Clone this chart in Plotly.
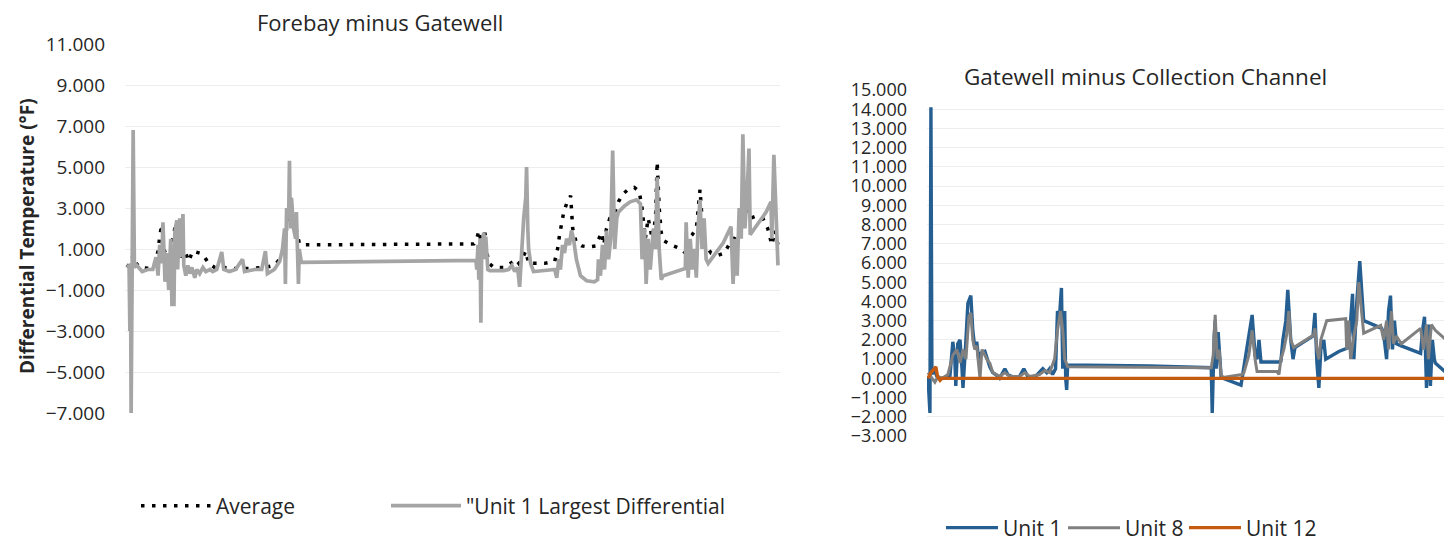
import plotly.graph_objects as go

# ---------------- Left chart: Forebay minus Gatewell (days since start) ----------------
avg_t = [0.5, 1.2, 2.0, 2.7, 3.7, 6.1, 7.3, 8.1, 8.5, 9.0, 9.5, 10.3, 11.0, 11.7, 12.5, 12.9,
         13.7, 14.7, 15.6, 16.6, 18.3, 19.5, 20.5, 22.0, 24.4, 26.9, 30.5, 34.2, 36.6, 38.3,
         39.3, 40.1, 40.5, 41.3, 42.0, 42.7, 43.2, 85.5, 86.2, 86.7, 87.4, 88.2, 88.7, 89.2,
         90.4, 92.8, 94.5, 95.8, 96.5, 97.5, 98.2, 98.9, 100.7, 102.8, 105.3, 106.0, 106.5,
         107.0, 107.5, 108.2, 109.2, 109.7, 110.6, 111.9, 113.6, 115.3, 116.0, 116.8, 117.3,
         118.0, 118.8, 119.5, 120.2, 120.9, 122.1, 123.3, 124.8, 126.0, 126.7, 127.5, 128.2,
         129.2, 130.0, 130.4, 130.9, 131.4, 132.1, 133.8, 136.3, 137.3, 138.0, 139.0, 140.0,
         140.9, 141.4, 142.2, 143.6, 145.4, 146.8, 148.0, 149.3, 150.5, 151.4, 152.2, 153.2,
         154.6, 156.3, 157.5, 158.5, 159.3, 160.0]
avg_v = [0.1, 0.3, 0.7, 0.3, 0.1, 0.05, 0.3, 0.9, 1.6, 2.2, 1.0, 0.6, 0.4, 1.5, 2.3, 1.5,
         0.6, 0.9, 0.4, 0.9, 0.8, 0.6, 0.3, 0.1, 0.1, 0.05, 0.05, 0.1, 0.2, 0.6,
         1.5, 3.0, 3.5, 2.5, 1.8, 1.3, 1.2, 1.25, 1.5, 1.9, 1.2, 1.8, 0.8, 0.3,
         0.1, 0.1, 0.3, 0.5, 0.3, 0.6, 0.9, 0.3, 0.3, 0.3, 0.4, 1.0, 1.7,
         2.3, 2.8, 3.2, 3.6, 2.0, 1.3, 1.15, 1.1, 1.15, 1.5, 1.8, 1.2,
         2.0, 2.5, 2.6, 2.9, 3.3, 3.7, 3.9, 4.0, 3.8, 3.0, 1.5, 2.5,
         1.5, 2.5, 5.25, 3.0, 1.8, 1.4, 1.2, 1.0, 0.8, 1.5, 1.7, 2.0,
         3.9, 2.5, 1.2, 0.8, 0.7, 0.8, 1.2, 1.5, 2.0, 3.0, 3.2, 2.5,
         2.6, 2.5, 2.0, 1.2, 1.9, 1.2]

u1max_t = [0.5, 1.0, 1.2, 1.35, 1.5, 1.7, 2.0, 2.3, 2.9, 4.2, 5.6, 6.8, 7.6, 8.1, 8.5, 9.0,
           9.3, 9.8, 10.3, 10.7, 11.2, 11.5, 12.0, 12.2, 12.7, 12.9, 13.4, 13.7, 14.2, 14.4,
           14.9, 15.4, 15.9, 16.4, 17.1, 17.6, 18.3, 19.1, 19.8, 20.8, 21.5, 22.5, 23.7, 24.2,
           25.6, 27.1, 28.8, 29.3, 31.8, 33.5, 34.4, 34.9, 36.6, 37.9, 38.6, 39.1, 39.3, 39.6,
           40.1, 40.3, 40.5, 40.8, 41.3, 41.8, 42.0, 42.5, 42.7, 43.2, 86.0, 86.2, 86.5, 86.7,
           87.0, 87.2, 87.4, 87.9, 88.2, 88.4, 88.9, 89.4, 92.8, 94.0, 94.8, 95.5, 96.2, 96.7,
           97.2, 97.7, 98.2, 98.4, 98.7, 98.9, 99.4, 100.1, 102.8, 105.3, 105.8, 106.3, 106.7,
           107.2, 107.7, 108.2, 108.9, 109.4, 109.9, 110.6, 111.6, 113.1, 115.0, 115.8, 116.0,
           116.5, 117.0, 117.5, 118.0, 118.5, 119.0, 119.5, 120.0, 120.5, 120.9, 122.4, 123.8,
           125.3, 126.3, 126.7, 127.3, 127.7, 128.2, 128.7, 129.5, 130.0, 130.4, 130.9, 131.4,
           131.9, 137.3, 137.5, 138.0, 138.5, 139.0, 139.5, 140.0, 140.4, 140.9, 141.4, 141.9,
           142.4, 142.9, 146.6, 148.5, 149.0, 149.5, 150.0, 150.5, 151.0, 151.4, 151.9, 152.4,
           152.9, 153.2, 155.1, 157.1, 158.3, 158.5, 159.0, 159.5, 160.0]
u1max_v = [0.1, 0.2, -3.0, 0.3, -7.0, 0.4, 6.8, 0.1, 0.2, -0.1, 0.0, 0.0, 0.6, -0.3, 1.2, 0.3,
           2.3, -0.6, 0.8, -1.0, 1.5, -1.7, -1.7, 1.8, 2.4, 0.0, 2.5, 0.6, 2.7, 0.2,
           -0.3, 0.2, -0.2, 0.1, -0.4, 0.0, -0.2, 0.1, -0.1, 0.0, -0.1, 0.0, 0.85, 0.0,
           -0.1, 0.0, 0.5, -0.1, 0.0, 0.0, 0.9, -0.2, 0.0, 0.4, 1.0, 2.0, -0.7, 3.0,
           2.5, 5.3, 2.0, 3.5, 2.0, 1.5, 2.8, -0.7, 1.0, 0.35, 0.45, 0.0, 1.2, -0.5,
           1.5, -2.6, 0.8, 1.8, 0.5, 1.6, 0.0, -0.05, -0.05, 0.0, 0.2, -0.1, 0.1, -0.85,
           1.0, 2.5, 3.5, 5.0, 2.0, 1.0, 0.3, -0.1, -0.05, 0.0, -0.4, 0.5, 0.0,
           1.2, 0.8, 1.5, 1.2, 1.9, 1.5, 0.5, -0.3, -0.55, -0.6, -0.5, 0.5,
           -0.3, 1.2, 0.0, 1.9, 0.5, 1.5, 5.8, 1.0, 2.5, 2.8, 3.1, 3.3,
           3.4, 3.2, 0.5, 2.0, -0.7, 1.5, 0.0, 2.0, 1.0, 4.5, 1.0, -0.5,
           -0.3, 0.05, 2.3, -0.4, 1.5, 0.0, 1.0, -0.4, 2.0, 3.4, 1.0, 2.5,
           0.5, 0.3, 1.3, 2.1, -0.7, 1.5, -0.3, 3.0, 1.5, 6.6, 2.0, 3.5,
           5.9, 1.7, 2.2, 2.8, 3.3, 1.5, 5.6, 3.0, 0.2]

left_ticks = [-7, -5, -3, -1, 1, 3, 5, 7, 9, 11]

# ---------------- Right chart: Gatewell minus Collection Channel ----------------
unit1_t = [0.3, 0.9, 1.2, 1.5, 2.1, 3.0, 4.0, 5.5, 7.0, 7.9, 8.5, 8.8, 9.4, 10.1, 10.7, 11.0,
           11.9, 12.5, 13.4, 14.0, 14.6, 15.2, 15.8, 16.5, 17.7, 18.6, 19.2, 20.1, 21.0, 22.2,
           23.8, 24.7, 25.9, 27.1, 28.3, 29.6, 30.8, 32.9, 34.4, 35.4, 36.6, 37.5, 38.4, 39.3,
           39.9, 40.5, 41.1, 41.5, 41.8, 42.1, 42.4, 42.7, 43.0, 68.0, 86.9, 87.2, 87.8, 88.1,
           88.4, 89.0, 89.9, 90.5, 96.0, 96.6, 97.5, 98.4, 99.4, 100.3, 100.9, 101.5, 102.1,
           107.6, 108.2, 108.8, 109.7, 110.3, 111.2, 111.9, 112.5, 115.2, 118.0, 118.6, 119.2,
           119.8, 120.4, 121.3, 121.9, 125.9, 128.9, 129.5, 130.1, 130.5, 131.4, 132.3, 132.9,
           133.5, 139.0, 139.6, 140.5, 141.1, 141.7, 142.3, 142.9, 143.5, 144.8, 150.9, 151.5,
           152.1, 152.7, 153.3, 153.9, 154.5, 155.1, 155.4, 160.0]
unit1_v = [0.1, -1.8, 14.1, 0.2, 0.5, 0.1, 0.0, 0.0, 0.1, 1.9, 1.0, -0.4, 1.8, 2.0, 0.5, -0.5,
           2.0, 3.9, 4.3, 2.5, 1.6, 1.9, 1.0, 1.3, 1.4, 0.9, 0.6, 0.3, 0.2, 0.0,
           0.5, 0.2, 0.1, 0.05, 0.1, 0.5, 0.1, 0.05, 0.3, 0.5, 0.3, 0.5, 0.2, 0.5,
           3.5, 3.2, 4.7, 0.5, 2.5, 3.5, 0.0, -0.6, 0.7, 0.65, 0.55, -1.8, 2.2, 3.0,
           0.5, 2.4, 0.1, 0.0, -0.35, 0.3, 1.5, 2.5, 3.3, 1.2, 1.0, 2.0, 0.85,
           0.85, 0.9, 2.0, 3.0, 4.6, 2.0, 1.0, 1.6, 1.9, 2.2, 3.4, 0.8,
           -0.5, 1.5, 2.0, 1.0, 1.4, 1.6, 3.0, 4.4, 1.0, 4.0, 6.1, 4.5,
           3.0, 2.6, 2.3, 1.0, 3.5, 4.3, 1.5, 3.0, 1.8, 1.7, 1.3, 2.5,
           3.2, -0.5, 2.8, -0.4, 2.0, 1.0, 0.8, 0.1]

unit8_t = [0.3, 1.5, 2.4, 3.4, 4.6, 6.4, 7.9, 9.1, 10.1, 11.0, 11.9, 12.8, 13.4, 14.0, 14.6,
           15.2, 16.2, 16.8, 17.7, 18.6, 19.2, 20.1, 22.2, 23.8, 25.3, 28.3, 29.9, 31.4, 34.4,
           36.0, 37.5, 39.0, 39.9, 40.8, 41.5, 42.1, 43.0, 86.9, 87.5, 88.1, 88.7, 89.3, 89.9,
           90.5, 96.3, 96.9, 98.4, 99.4, 100.3, 100.9, 107.0, 107.6, 108.2, 109.1, 110.0, 110.6,
           111.2, 112.1, 118.2, 118.6, 119.2, 119.8, 120.4, 121.3, 122.2, 128.0, 128.3, 128.9,
           129.5, 130.5, 131.4, 132.0, 132.6, 133.2, 133.5, 138.7, 139.6, 140.5, 141.1, 142.0,
           142.6, 143.5, 145.0, 150.9, 151.8, 152.7, 153.3, 154.2, 155.4, 160.0]
unit8_v = [0.3, 0.0, -0.2, 0.1, 0.0, 0.2, 1.2, 1.5, 0.8, 1.5, 1.0, 3.2, 3.4, 2.0, 1.5,
           1.7, 0.0, 1.5, 1.2, 0.9, 0.8, 0.3, 0.1, 0.3, 0.1, 0.1, 0.3, 0.1, 0.2,
           0.4, 0.3, 1.0, 2.5, 3.5, 2.5, 1.0, 0.6, 0.55, 1.2, 3.3, 1.0, 1.5, 0.2,
           0.05, 0.2, 0.3, 1.2, 2.5, 1.0, 0.35, 0.35, 0.2, 1.0, 1.5, 2.3, 3.5,
           2.0, 1.6, 2.25, 2.6, 1.5, 1.0, 2.0, 2.5, 3.0, 3.1, 1.5, 3.0,
           1.0, 2.2, 3.0, 5.0, 4.0, 3.0, 2.35, 2.75, 2.0, 3.0, 1.5, 3.5,
           1.8, 2.2, 1.8, 2.6, 1.5, 2.8, 1.0, 2.8, 2.5, 1.8]

unit12_t = [0.3, 1.2, 2.7, 3.2, 4.0, 4.6, 160.0]
unit12_v = [0.0, 0.3, 0.6, 0.1, -0.1, 0.0, 0.0]

right_ticks = list(range(-3, 16))

FONT = "Open Sans"
TXT = "#262626"
GRID = "#EDEDED"

# the page body adds an 8 px offset; figure size compensates for it
OFF = 8
W, H = 1452 - OFF, 541 - OFF


def fx(px):
    return (px - OFF) / W


def fy(py):
    return 1 - (py - OFF) / H


fig = go.Figure()
fig.add_trace(go.Scatter(x=avg_t, y=avg_v, mode="lines", name="Average", showlegend=True,
                         line=dict(color="#000000", width=3.5, dash="3.5px,7.5px"),
                         xaxis="x", yaxis="y", legend="legend"))
fig.add_trace(go.Scatter(x=u1max_t, y=u1max_v, mode="lines", name='"Unit 1 Largest Differential',
                         showlegend=True, line=dict(color="#A5A5A5", width=3.7),
                         xaxis="x", yaxis="y", legend="legend2"))
fig.add_trace(go.Scatter(x=unit1_t, y=unit1_v, mode="lines", name="Unit 1", showlegend=True,
                         line=dict(color="#255E91", width=3.4),
                         xaxis="x2", yaxis="y2", legend="legend3"))
fig.add_trace(go.Scatter(x=unit8_t, y=unit8_v, mode="lines", name="Unit 8", showlegend=True,
                         line=dict(color="#808080", width=3.0),
                         xaxis="x2", yaxis="y2", legend="legend4"))
fig.add_trace(go.Scatter(x=unit12_t, y=unit12_v, mode="lines", name="Unit 12", showlegend=True,
                         line=dict(color="#C55A11", width=3.4),
                         xaxis="x2", yaxis="y2", legend="legend5"))


def leg(x_px, y_px, iw, size):
    return dict(orientation="h", x=fx(x_px), y=fy(y_px), xanchor="left", yanchor="middle",
                itemwidth=iw, font=dict(size=size, color=TXT), bgcolor="rgba(0,0,0,0)")


fig.update_layout(
    width=W, height=H,
    showlegend=True,
    margin=dict(l=0, r=0, t=0, b=0, autoexpand=False),
    paper_bgcolor="white", plot_bgcolor="white",
    font=dict(family=FONT, color=TXT, size=19),
    xaxis=dict(domain=[fx(125), fx(780)], range=[0, 160.5], visible=False),
    yaxis=dict(domain=[fy(413), fy(44)], range=[-7, 11], tickvals=left_ticks,
               tickformat=".3f", showgrid=True, gridcolor=GRID, gridwidth=1.3,
               zeroline=False, showline=False, ticks="", ticklabelstandoff=19,
               automargin=False, tickfont=dict(size=19, color=TXT)),
    xaxis2=dict(domain=[fx(927), 1.0], range=[0, 160.5], visible=False, anchor="y2"),
    yaxis2=dict(domain=[fy(436), fy(90)], range=[-3, 15], tickvals=right_ticks,
                tickformat=".3f", showgrid=True, gridcolor=GRID, gridwidth=1.3,
                zeroline=False, showline=False, ticks="", ticklabelstandoff=19,
                automargin=False, tickfont=dict(size=18, color=TXT), anchor="x2"),
    legend=leg(136, 506, 70, 21),
    legend2=leg(386, 506, 70, 21),
    legend3=leg(941, 528, 52, 21),
    legend4=leg(1063, 528, 52, 21),
    legend5=leg(1184, 528, 52, 21),
    annotations=[
        dict(text="Forebay minus Gatewell", x=fx(380), y=fy(22), xref="paper", yref="paper",
             showarrow=False, xanchor="center", yanchor="middle", borderpad=0,
             font=dict(size=22, color=TXT)),
        dict(text="Gatewell minus Collection Channel", x=fx(1145), y=fy(76), xref="paper",
             yref="paper", showarrow=False, xanchor="center", yanchor="middle",
             font=dict(size=22.5, color=TXT)),
        dict(text="<b>Differential Temperature (°F)</b>", x=fx(27), y=fy(236), xref="paper",
             yref="paper", showarrow=False, textangle=-90, xanchor="center", yanchor="middle",
             font=dict(size=19, color=TXT)),
    ],
)

fig.write_html("out.html")
